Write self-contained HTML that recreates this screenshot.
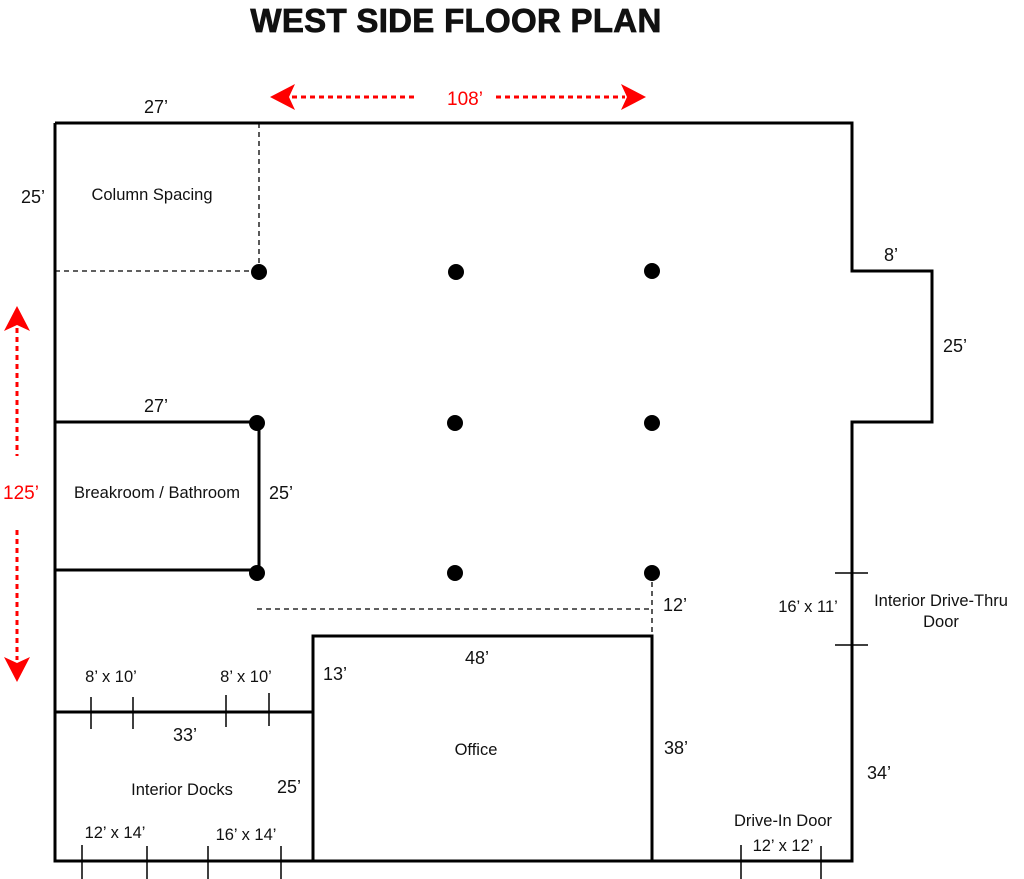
<!DOCTYPE html>
<html><head><meta charset="utf-8"><style>
html,body{margin:0;padding:0;background:#fff;}
svg{display:block;}
text{font-family:"Liberation Sans",sans-serif;fill:#111;}
</style></head><body>
<svg width="1024" height="879" viewBox="0 0 1024 879" xmlns="http://www.w3.org/2000/svg">
<text x="456" y="32" text-anchor="middle" font-size="33" font-weight="bold" style="stroke:#111;stroke-width:0.8px;letter-spacing:0.3px">WEST SIDE FLOOR PLAN</text>

<!-- red arrows -->
<g fill="#f00" stroke="none">
<polygon points="270,97 295,84 289,97 295,110"/>
<polygon points="646,97 621,84 627,97 621,110"/>
<polygon points="17,306 4,331 17,325 30,331"/>
<polygon points="17,682 4,657 17,663 30,657"/>
</g>
<g stroke="#f00" stroke-width="3" stroke-dasharray="5,4" fill="none">
<line x1="292" y1="97" x2="418" y2="97"/>
<line x1="496" y1="97" x2="625" y2="97"/>
<line x1="17" y1="328" x2="17" y2="456"/>
<line x1="17" y1="530" x2="17" y2="660"/>
</g>
<text x="465" y="105" text-anchor="middle" font-size="19" style="fill:#f00">108’</text>
<text x="21" y="499" text-anchor="middle" font-size="19" style="fill:#f00">125’</text>

<!-- walls -->
<g stroke="#000" stroke-width="3" fill="none">
<polyline points="55,123 852,123 852,271 932,271 932,422 852,422 852,861 55,861 55,123"/>
<polyline points="55,422 259,422 259,573"/>
<line x1="55" y1="570" x2="257" y2="570"/>
<rect x="313" y="636" width="339" height="225"/>
<line x1="55" y1="712" x2="313" y2="712"/>
</g>
<g stroke="#000" stroke-width="1.5" fill="none">
<line x1="91" y1="697" x2="91" y2="729"/>
<line x1="133" y1="697" x2="133" y2="729"/>
<line x1="226" y1="695" x2="226" y2="727"/>
<line x1="269" y1="693" x2="269" y2="726"/>
<line x1="82" y1="845" x2="82" y2="879"/>
<line x1="147" y1="846" x2="147" y2="879"/>
<line x1="208" y1="846" x2="208" y2="879"/>
<line x1="281" y1="846" x2="281" y2="879"/>
<line x1="741" y1="845" x2="741" y2="879"/>
<line x1="821" y1="846" x2="821" y2="879"/>
<line x1="835" y1="573" x2="868" y2="573"/>
<line x1="835" y1="645" x2="868" y2="645"/>
</g>
<g stroke="#000" stroke-width="1.3" stroke-dasharray="5,4" fill="none">
<line x1="259" y1="123" x2="259" y2="271"/>
<line x1="55" y1="271" x2="259" y2="271"/>
<line x1="257" y1="609" x2="652" y2="609"/>
<line x1="652" y1="573" x2="652" y2="636"/>
</g>
<g fill="#000">
<circle cx="259" cy="272" r="8"/><circle cx="456" cy="272" r="8"/><circle cx="652" cy="271" r="8"/>
<circle cx="257" cy="423" r="8"/><circle cx="455" cy="423" r="8"/><circle cx="652" cy="423" r="8"/>
<circle cx="257" cy="573" r="8"/><circle cx="455" cy="573" r="8"/><circle cx="652" cy="573" r="8"/>
</g>

<!-- labels -->
<g font-size="18">
<text x="156" y="113" text-anchor="middle">27’</text>
<text x="33" y="203" text-anchor="middle">25’</text>
<text x="891" y="261" text-anchor="middle">8’</text>
<text x="955" y="352" text-anchor="middle">25’</text>
<text x="156" y="412" text-anchor="middle">27’</text>
<text x="281" y="499" text-anchor="middle">25’</text>
<text x="675" y="611" text-anchor="middle">12’</text>
<text x="477" y="664" text-anchor="middle">48’</text>
<text x="335" y="680" text-anchor="middle">13’</text>
<text x="185" y="741" text-anchor="middle">33’</text>
<text x="676" y="754" text-anchor="middle">38’</text>
<text x="289" y="793" text-anchor="middle">25’</text>
<text x="879" y="779" text-anchor="middle">34’</text>
</g>
<g font-size="16.5">
<text x="152" y="200" text-anchor="middle">Column Spacing</text>
<text x="157" y="498" text-anchor="middle">Breakroom / Bathroom</text>
<text x="941" y="606" text-anchor="middle">Interior Drive-Thru</text>
<text x="941" y="627" text-anchor="middle">Door</text>
<text x="808" y="612" text-anchor="middle">16’ x 11’</text>
<text x="111" y="682" text-anchor="middle">8’ x 10’</text>
<text x="246" y="682" text-anchor="middle">8’ x 10’</text>
<text x="476" y="755" text-anchor="middle">Office</text>
<text x="182" y="795" text-anchor="middle">Interior Docks</text>
<text x="115" y="838" text-anchor="middle">12’ x 14’</text>
<text x="246" y="840" text-anchor="middle">16’ x 14’</text>
<text x="783" y="826" text-anchor="middle">Drive-In Door</text>
<text x="783" y="851" text-anchor="middle">12’ x 12’</text>
</g>
</svg>
</body></html>
